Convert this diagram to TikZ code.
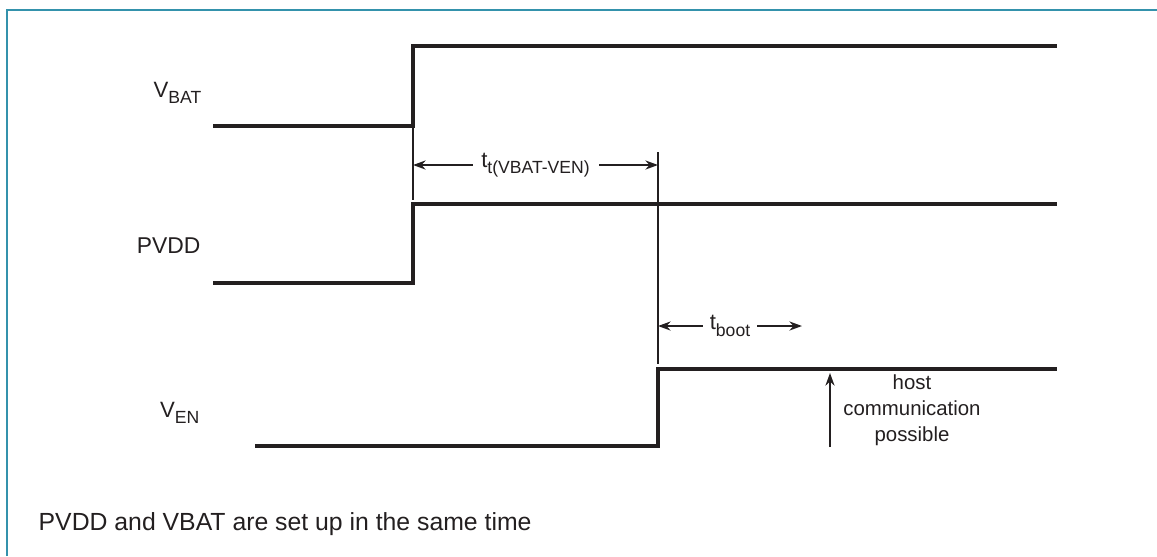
\documentclass[tikz,border=0pt]{standalone}
\usepackage{fontspec}
\setmainfont{Liberation Sans}
\usetikzlibrary{arrows.meta}
\definecolor{framec}{RGB}{52,146,172}
\definecolor{sigc}{RGB}{35,31,32}
\newcommand{\sbs}[1]{\raisebox{-0.28em}{\fontsize{5pt}{6pt}\selectfont #1}}
\tikzset{
  sig/.style={draw=sigc, line width=0.9pt, line join=miter},
  thin/.style={draw=sigc, line width=0.42pt},
  dim/.style={draw=sigc, line width=0.42pt, {Stealth[length=3.6pt,width=2.6pt]}-{Stealth[length=3.6pt,width=2.6pt]}},
  up/.style={draw=sigc, line width=0.42pt, -{Stealth[length=3.6pt,width=2.6pt]}},
  lab/.style={inner sep=0pt, font=\fontsize{6.3pt}{7pt}\selectfont, text=sigc},
  note/.style={inner sep=0pt, font=\fontsize{5.8pt}{7.4pt}\selectfont, text=sigc, align=center},
}
\begin{document}
\begin{tikzpicture}[x=0.01cm, y=-0.01cm]
\useasboundingbox (0,0) rectangle (1157,556);
% frame
\draw[framec, line width=0.75pt] (7,556) -- (7,10) -- (1157,10);
% VBAT
\coordinate (b0) at (213,126); \coordinate (b1) at (413,126);
\coordinate (b2) at (413,46); \coordinate (b3) at (1057,46);
\draw[sig] (b0) -- (b1) -- (b2) -- (b3);
% PVDD
\coordinate (p0) at (213,283); \coordinate (p1) at (413,283);
\coordinate (p2) at (413,204); \coordinate (p3) at (1057,204);
\draw[sig] (p0) -- (p1) -- (p2) -- (p3);
% VEN
\coordinate (e0) at (255,446); \coordinate (e1) at (658,446);
\coordinate (e2) at (658,369); \coordinate (e3) at (1057,369);
\draw[sig] (e0) -- (e1) -- (e2) -- (e3);
% guide lines
\coordinate (g1a) at (413,128); \coordinate (g1b) at (413,200);
\draw[thin] (g1a) -- (g1b);
\coordinate (g2a) at (658,152); \coordinate (g2b) at (658,364);
\draw[thin] (g2a) -- (g2b);
% dimension arrows
\coordinate (d1a) at (413,165); \coordinate (d1b) at (658,165);
\draw[dim] (d1a) -- (d1b) node[midway, fill=white, inner xsep=2.5pt, inner ysep=1pt, font=\fontsize{6.3pt}{7pt}\selectfont, text=sigc] (tt) {t\sbs{t(VBAT-VEN)}};
\coordinate (d2a) at (658,326); \coordinate (d2b) at (802,326);
\draw[dim] (d2a) -- (d2b) node[midway, fill=white, inner xsep=2pt, inner ysep=1pt, font=\fontsize{6.3pt}{7pt}\selectfont, text=sigc] (tb) {t\sbs{boot}};
% host arrow
\coordinate (h0) at (830,447); \coordinate (h1) at (830,373);
\draw[up] (h0) -- (h1);
\node[note] (host) at (912,410) {host\\communication\\possible};
% labels
\node[lab, anchor=base east] (lvbat) at (202,97) {V\sbs{BAT}};
\node[lab, anchor=base east, font=\fontsize{6.5pt}{8pt}\selectfont] (lpvdd) at (201,253) {PVDD};
\node[lab, anchor=base east] (lven) at (200,417) {V\sbs{EN}};
\node[lab, anchor=base west, font=\fontsize{7.05pt}{8pt}\selectfont] (caption) at (38,530) {PVDD and VBAT are set up in the same time};
\end{tikzpicture}
\end{document}
